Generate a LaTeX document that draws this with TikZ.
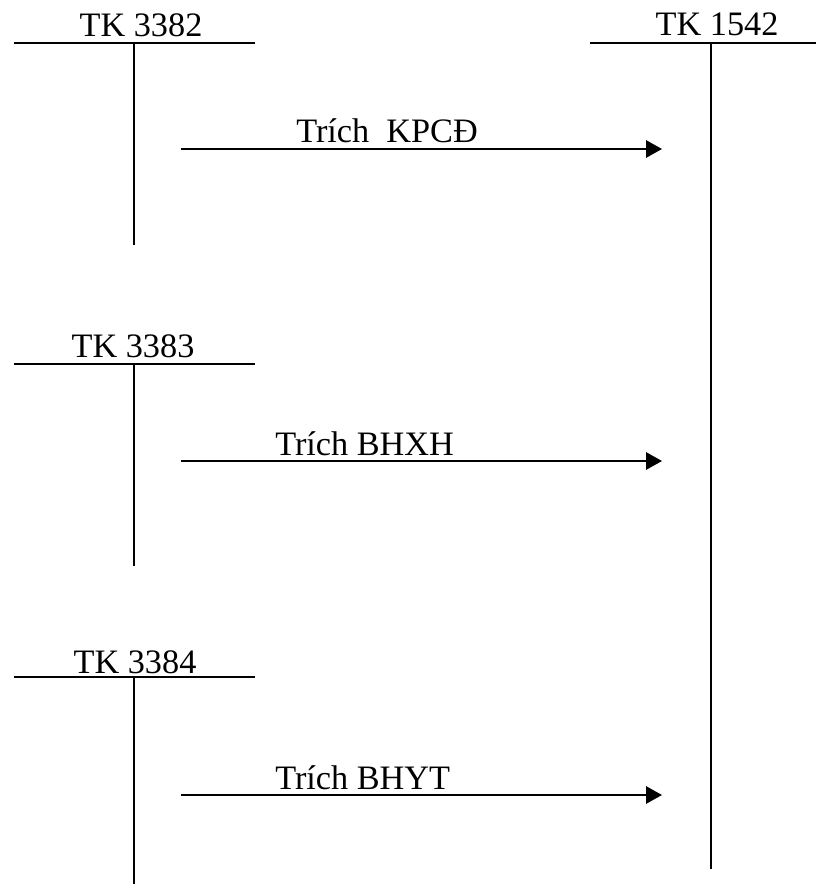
\documentclass[tikz,border=0pt]{standalone}
\usepackage{fontspec}
\setmainfont{Liberation Serif}
\usetikzlibrary{arrows.meta}

\begin{document}
\begin{tikzpicture}[x=0.75pt, y=-0.75pt,
    tline/.style={line width=1.5pt},
    acct/.style={anchor=base, inner sep=0pt, font=\fontsize{25.7}{30}\selectfont},
    entry/.style={anchor=base west, inner sep=0pt, font=\fontsize{25.7}{30}\selectfont},
    post/.style={line width=1.5pt, -{Triangle[length=12pt, width=13pt]}}]
    \useasboundingbox (0,0) rectangle (816,884);

    % TK 3382
    \draw[tline] (14,43) -- (255,43);
    \draw[tline] (134,43) -- (134,245);
    \node[acct] (tk3382) at (141,37) {TK 3382};

    % TK 1542
    \draw[tline] (590,43) -- (816,43);
    \draw[tline] (711,43) -- (711,869);
    \node[acct] (tk1542) at (717,36) {TK 1542};

    % TK 3383
    \draw[tline] (14,364) -- (255,364);
    \draw[tline] (134,364) -- (134,566);
    \node[acct] (tk3383) at (133,357) {TK 3383};

    % TK 3384
    \draw[tline] (14,677) -- (255,677);
    \draw[tline] (134,677) -- (134,884);
    \node[acct] (tk3384) at (135,673) {TK 3384};

    % but toan
    \coordinate (a1) at (181,149);  \coordinate (b1) at (662,149);
    \coordinate (a2) at (181,461);  \coordinate (b2) at (662,461);
    \coordinate (a3) at (181,795);  \coordinate (b3) at (662,795);
    \draw[post] (a1) -- (b1);
    \draw[post] (a2) -- (b2);
    \draw[post] (a3) -- (b3);
    \node[entry] (kpcd) at (296,143) {Trích\ \ KPCĐ};
    \node[entry] (bhxh) at (275,455) {Trích BHXH};
    \node[entry] (bhyt) at (275,789) {Trích BHYT};
\end{tikzpicture}
\end{document}
